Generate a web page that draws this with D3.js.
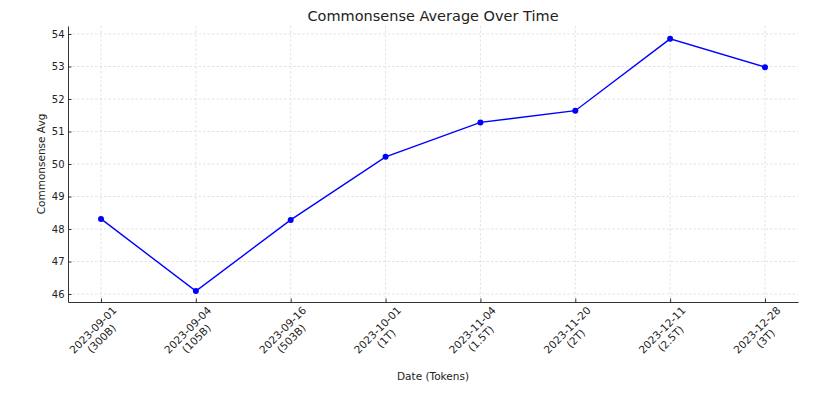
<!DOCTYPE html>
<html>
<head>
<meta charset="utf-8">
<script src="https://cdn.jsdelivr.net/npm/d3@7"></script>
<style>
  body { margin: 0; background: #fff; }
  text { font-family: "DejaVu Sans", sans-serif; fill: #222; }
</style>
</head>
<body>
<script>
const width = 817,
      height = 397

// data
const dates = ['2023-09-01', '2023-09-04', '2023-09-16', '2023-10-01', '2023-11-04', '2023-11-20', '2023-12-11', '2023-12-28']
const tokens = ['300B', '105B', '503B', '1T', '1.5T', '2T', '2.5T', '3T']
const avg = [48.31, 46.09, 48.28, 50.22, 51.28, 51.64, 53.85, 52.98]
const yTicks = [46, 47, 48, 49, 50, 51, 52, 53, 54]

const margin = {top: 26, right: 19, bottom: 95, left: 68}
const plotW = width - margin.left - margin.right,
      plotH = height - margin.top - margin.bottom

const svg = d3.select('body').append('svg')
    .attr('width', width)
    .attr('height', height)

const g = svg.append('g')
    .attr('transform', `translate(${margin.left},${margin.top})`)

const x = d3.scalePoint()
    .domain(dates)
    .range([0, plotW])
    .padding(0.348)

const y = d3.scaleLinear()
    .domain([45.754, 54.246])
    .range([plotH, 0])

// grid
g.append('g')
    .selectAll('line')
    .data(yTicks)
    .enter()
    .append('line')
        .attr('x1', 0)
        .attr('x2', plotW)
        .attr('y1', d => y(d))
        .attr('y2', d => y(d))
        .style('stroke', '#dcdcdc')
        .style('stroke-width', 0.8)
        .style('stroke-dasharray', '2.5,2')

g.append('g')
    .selectAll('line')
    .data(dates)
    .enter()
    .append('line')
        .attr('x1', d => x(d))
        .attr('x2', d => x(d))
        .attr('y1', 0)
        .attr('y2', plotH)
        .style('stroke', '#dcdcdc')
        .style('stroke-width', 0.8)
        .style('stroke-dasharray', '2.5,2')

// axes, ticks point inward
const yAxis = g.append('g')
    .call(d3.axisLeft(y).tickValues(yTicks).tickSizeInner(-3.5).tickSizeOuter(0).tickPadding(3.5))
yAxis.selectAll('text').style('font-size', '10px').style('fill', '#222')

const xAxis = g.append('g')
    .attr('transform', `translate(0,${plotH})`)
    .call(d3.axisBottom(x).tickSizeInner(-3.5).tickSizeOuter(0).tickFormat(''))

g.selectAll('.domain').style('stroke', '#333').style('stroke-width', 1)
g.selectAll('.tick line').style('stroke', '#333')

// two line rotated tick labels
const labels = g.append('g')
    .selectAll('g')
    .data(dates)
    .enter()
    .append('g')
        .attr('transform', d => `translate(${x(d) - 4},${plotH + 32}) rotate(-45)`)

labels.append('text')
    .attr('text-anchor', 'middle')
    .style('font-size', '10.5px')
    .selectAll('tspan')
    .data((d, i) => [d, '(' + tokens[i] + ')'])
    .enter()
    .append('tspan')
        .attr('x', 0)
        .attr('y', (d, i) => i == 0 ? -2 : 10.2)
        .text(d => d)

// line + dots
const line = d3.line()
    .x((d, i) => x(dates[i]))
    .y(d => y(d))

g.append('path')
    .datum(avg)
    .attr('d', line)
    .style('fill', 'none')
    .style('stroke', '#0000ff')
    .style('stroke-width', 1.4)

g.selectAll('circle')
    .data(avg)
    .enter()
    .append('circle')
        .attr('cx', (d, i) => x(dates[i]))
        .attr('cy', d => y(d))
        .attr('r', 3)
        .style('fill', '#0000ff')

// titles
svg.append('text')
    .attr('x', margin.left + plotW / 2)
    .attr('y', 21)
    .attr('text-anchor', 'middle')
    .style('font-size', '14.5px')
    .text('Commonsense Average Over Time')

svg.append('text')
    .attr('x', margin.left + plotW / 2)
    .attr('y', 380)
    .attr('text-anchor', 'middle')
    .style('font-size', '10.5px')
    .text('Date (Tokens)')

svg.append('text')
    .attr('transform', `translate(45,${margin.top + plotH / 2}) rotate(-90)`)
    .attr('text-anchor', 'middle')
    .style('font-size', '10.5px')
    .text('Commonsense Avg')
</script>
</body>
</html>
